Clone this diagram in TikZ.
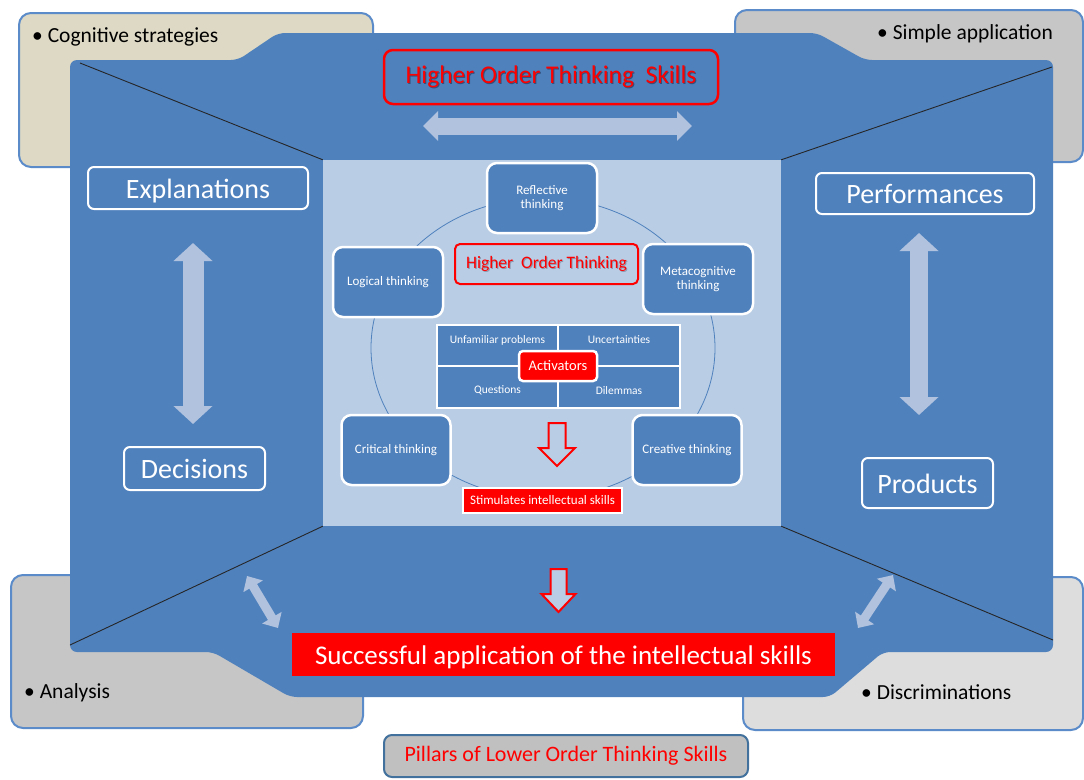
\documentclass[tikz,border=0pt]{standalone}
\usepackage{fontspec}
\setmainfont{Carlito}
\usetikzlibrary{arrows.meta}
\definecolor{mainblue}{HTML}{4F81BD}
\definecolor{lightbg}{HTML}{B9CDE5}
\definecolor{arrowlight}{HTML}{B0C2DE}
\definecolor{beige}{HTML}{DDD9C4}
\definecolor{grayA}{HTML}{C6C6C6}
\definecolor{grayB}{HTML}{DDDDDD}
\definecolor{boxborder}{HTML}{5B8BC9}
\definecolor{pillfill}{HTML}{C0C0C0}
\definecolor{pillborder}{HTML}{41719C}
\definecolor{shadowdark}{HTML}{34507A}
\definecolor{shadowlight}{HTML}{8C98AE}
\newcommand\shad[2]{\makebox[0pt][l]{\hspace{1pt}\raisebox{-1pt}{\textcolor{#1}{#2}}}#2}
\begin{document}
\begin{tikzpicture}[x=1pt,y=-1pt,
  bigbox/.style={draw=white, line width=2pt, rounded corners=6pt, fill=mainblue, text=white, font=\fontsize{28}{32}\selectfont, inner sep=0pt, text height=20pt, text depth=0pt},
  cyc/.style={draw=white, line width=2.5pt, rounded corners=10pt, fill=mainblue, text=white, align=center, font=\fontsize{13}{14.5}\selectfont, minimum width=110pt, minimum height=70pt, inner sep=0pt},
  cell/.style={draw=white, line width=2pt, fill=mainblue, inner sep=0pt},
  celltext/.style={text=white, font=\fontsize{11.5}{13}\selectfont, inner sep=0pt},
  redlab/.style={draw=white, line width=2pt, fill=red, text=white, inner sep=0pt},
  bgbox/.style={draw=boxborder, line width=2pt, rounded corners=12pt},
  bullettext/.style={anchor=base west, text=black, font=\fontsize{21.5}{25}\selectfont, inner sep=0pt},
  redarrow/.style={draw=red, line width=2pt, fill=lightbg, line join=miter},
  dline/.style={draw=black!85, line width=0.9pt}
]
\useasboundingbox (0,0) rectangle (1084,779);
\fill[white] (0,0) rectangle (1084,779);

% background pillar boxes
\draw[bgbox, fill=beige] (19,13) rectangle (373,167);
\draw[bgbox, fill=grayA] (735,10) rectangle (1083,162);
\draw[bgbox, fill=grayA] (11,575) rectangle (363,728);
\draw[bgbox, fill=grayB] (743,577) rectangle (1083,730);
\node[bullettext] (tcog) at (32,42) {• Cognitive strategies};
\node[bullettext] (tsim) at (877,39) {• Simple application};
\node[bullettext] (tana) at (24,698) {• Analysis};
\node[bullettext] (tdis) at (861,699) {• Discriminations};

% main blue frame
\fill[mainblue, rounded corners=7pt] (70,60) -- (238,60) -- (278,33) -- (817,33) -- (865,60) -- (1053,60) -- (1053,652) -- (883,652) -- (830,697) -- (290,697) -- (213,652) -- (70,652) -- cycle;

% inner panel
\node[fill=lightbg, minimum width=458pt, minimum height=366pt, inner sep=0pt] (inner) at (552,343) {};
\coordinate (ctl) at (80,63);
\coordinate (ctr) at (1052,67);
\coordinate (cbl) at (70,645);
\coordinate (cbr) at (1053,640);
\draw[dline] (ctl) -- (inner.north west);
\draw[dline] (ctr) -- (inner.north east);
\draw[dline] (cbl) -- (inner.south west);
\draw[dline] (cbr) -- (inner.south east);

% top
\node[draw=red, line width=2.5pt, rounded corners=9pt, minimum width=334pt, minimum height=54pt, inner sep=0pt, text=red, font=\fontsize{25.5}{30}\selectfont] (hots) at (551,77) {\shad{shadowdark}{Higher Order Thinking\ \ Skills}};
\coordinate (ha1) at (423,126);
\coordinate (ha2) at (692,126);
\draw[arrowlight, line width=17pt, {Triangle[length=15pt,width=29pt]}-{Triangle[length=15pt,width=29pt]}] (ha1) -- (ha2);

% left
\node[bigbox, minimum width=220pt, minimum height=42pt] (expl) at (198,188) {Explanations};
\node[bigbox, minimum width=141pt, minimum height=43pt] (dec) at (194.5,468.5) {Decisions};
\coordinate (la1) at (193,243);
\coordinate (la2) at (193,424);
\draw[arrowlight, line width=21pt, {Triangle[length=18pt,width=38pt]}-{Triangle[length=18pt,width=38pt]}] (la1) -- (la2);

% right
\node[bigbox, minimum width=218pt, minimum height=41pt] (perf) at (925,193.5) {Performances};
\node[bigbox, minimum width=131pt, minimum height=50pt] (prod) at (927.5,483) {Products};
\coordinate (ra1) at (919,233);
\coordinate (ra2) at (919,415);
\draw[arrowlight, line width=18pt, {Triangle[length=18pt,width=38pt]}-{Triangle[length=18pt,width=38pt]}] (ra1) -- (ra2);

% centre cycle
\draw[mainblue, line width=0.8pt] (543,348) ellipse [x radius=172pt, y radius=150pt];
\node[cyc] (refl) at (542,198) {Reflective\\thinking};
\node[cyc] (logi) at (388,282) {Logical thinking};
\node[cyc] (meta) at (698,279) {Metacognitive\\thinking};
\node[cyc, minimum width=109pt] (crit) at (396,450) {Critical thinking};
\node[cyc, minimum width=109pt] (crea) at (687,450) {Creative thinking};
\node[draw=red, line width=2pt, rounded corners=5pt, fill=lightbg, minimum width=183pt, minimum height=40pt, inner sep=0pt, text=red, font=\fontsize{17.5}{20}\selectfont] (hot) at (546.5,264) {\shad{shadowlight}{Higher\ \ Order Thinking}};

\node[cell, minimum width=121pt, minimum height=41pt, label={[celltext, yshift=5.5pt]center:Unfamiliar problems}] (c1) at (497.5,345.5) {};
\node[cell, minimum width=122pt, minimum height=41pt, label={[celltext, yshift=5.5pt]center:Uncertainties}] (c2) at (619,345.5) {};
\node[cell, minimum width=121pt, minimum height=42pt, label={[celltext, yshift=-3.5pt]center:Questions}] (c3) at (497.5,387) {};
\node[cell, minimum width=122pt, minimum height=42pt, label={[celltext, yshift=-3.5pt]center:Dilemmas}] (c4) at (619,387) {};
\node[redlab, rounded corners=4pt, line width=2.5pt, minimum width=78pt, minimum height=30pt, font=\fontsize{14.5}{17}\selectfont] (act) at (558,366) {Activators};

\draw[redarrow] (548.5,423) -- (565.5,423) -- (565.5,448) -- (575,448) -- (557,466) -- (539,448) -- (548.5,448) -- cycle;
\node[redlab, minimum width=159pt, minimum height=25pt, font=\fontsize{13}{15}\selectfont] (stim) at (542.5,500.5) {Stimulates intellectual skills};

% bottom
\coordinate (dl1) at (247,576);
\coordinate (dl2) at (278,628);
\draw[arrowlight, line width=9pt, {Triangle[length=12pt,width=22pt]}-{Triangle[length=12pt,width=22pt]}] (dl1) -- (dl2);
\coordinate (dr1) at (893,575);
\coordinate (dr2) at (858,628);
\draw[arrowlight, line width=9pt, {Triangle[length=12pt,width=22pt]}-{Triangle[length=12pt,width=22pt]}] (dr1) -- (dr2);
\draw[redarrow] (550.5,569) -- (566.5,569) -- (566.5,594) -- (575.5,594) -- (558.5,612) -- (541.5,594) -- (550.5,594) -- cycle;
\node[fill=red, text=white, minimum width=543pt, minimum height=43pt, inner sep=0pt, font=\fontsize{27}{30}\selectfont, text height=20pt, text depth=0pt] (succ) at (563.5,654.5) {Successful application of the intellectual skills};

\node[draw=pillborder, fill=pillfill, line width=2pt, rounded corners=8pt, minimum width=364pt, minimum height=42pt, inner sep=0pt, text=red, font=\fontsize{22}{26}\selectfont] (pill) at (566,756) {Pillars of Lower Order Thinking Skills};
\end{tikzpicture}
\end{document}
